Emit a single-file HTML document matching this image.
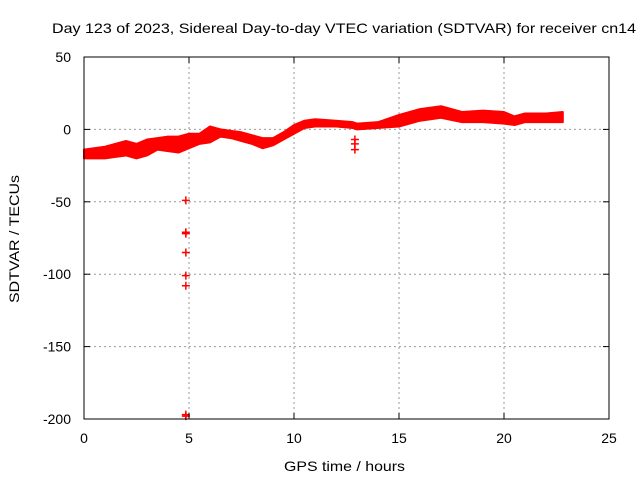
<!DOCTYPE html>
<html><head><meta charset="utf-8"><style>
body{margin:0;background:#fff}
svg{display:block;font-family:"Liberation Sans",sans-serif;font-size:14px}
</style></head><body>
<svg id="c" width="640" height="480">
<rect x="0" y="0" width="640" height="480" fill="#fff"/>
<g id="grid"></g>
<g id="data"></g>
<rect x="84" y="57" width="525" height="362" fill="none" stroke="#000" stroke-width="1"/>
<g id="ticks"></g>
<text x="52" y="33" textLength="584" lengthAdjust="spacingAndGlyphs">Day 123 of 2023, Sidereal Day-to-day VTEC variation (SDTVAR) for receiver cn14</text>
<text x="284" y="471" textLength="121" lengthAdjust="spacingAndGlyphs">GPS time / hours</text>
<text transform="translate(19,303) rotate(-90)" textLength="128" lengthAdjust="spacingAndGlyphs">SDTVAR / TECUs</text>
</svg>
<script>
const xTicks=[0,5,10,15,20,25];
const yTicks=[50,0,-50,-100,-150,-200];
const hours=[0,1,1.5,2,2.5,3,3.5,4,4.5,5,5.5,6,6.5,7,7.5,8,8.5,9,9.5,10,10.5,11,12,12.8,13,14,15,16,17,18,19,20,20.5,21,22,22.8];
const upper=[-14,-12,-10,-8,-10,-7,-6,-5,-5,-3,-3,2,0,-1,-2,-4,-6,-6,-2,3,6,7,6,5,4,5,10,14,16,12,13,12,9,11,11,12];
const lower=[-20,-20,-19,-18,-20,-18,-14,-15,-16,-13,-10,-9,-5,-6,-8,-10,-13,-11,-7,-3,1,2,2,1,0,1,2,6,8,5,5,4,3,5,5,5];
const outX=[4.85,4.85,4.85,4.85,4.85,4.85,4.85,4.85,12.9,12.9,12.9];
const outY=[-49,-71,-72,-85,-101,-108,-197,-198,-7,-10,-14];
const X=v=>84+v*21, Y=v=>57+(50-v)*362/250;
const NS="http://www.w3.org/2000/svg";
function mk(t,a,p){const e=document.createElementNS(NS,t);for(const k in a)e.setAttribute(k,a[k]);document.getElementById(p).appendChild(e);return e;}
xTicks.forEach(t=>{
 if(t>0&&t<25){const g=mk('line',{x1:X(t),x2:X(t),y1:57,y2:419,stroke:'#999','stroke-dasharray':'2,3'},'grid');
 
 }
 mk('line',{x1:X(t),x2:X(t),y1:419,y2:413,stroke:'#000'},'ticks');
 mk('line',{x1:X(t),x2:X(t),y1:57,y2:63,stroke:'#000'},'ticks');
 const l=mk('text',{x:X(t),y:443,'text-anchor':'middle'},'ticks');l.textContent=t;
 
 
});
yTicks.forEach(t=>{
 if(t<50&&t>-200){const g=mk('line',{x1:84,x2:609,y1:Y(t),y2:Y(t),stroke:'#999','stroke-dasharray':'2,3'},'grid');
 
 }
 mk('line',{x1:84,x2:90,y1:Y(t),y2:Y(t),stroke:'#000'},'ticks');
 mk('line',{x1:609,x2:603,y1:Y(t),y2:Y(t),stroke:'#000'},'ticks');
 const l=mk('text',{x:71,y:Y(t)+5,'text-anchor':'end'},'ticks');l.textContent=t;
 
 
});
let d='M'+hours.map((h,i)=>X(h)+','+Y(upper[i])).join('L');
for(let i=hours.length-1;i>=0;i--)d+='L'+X(hours[i])+','+Y(lower[i]);
const band=mk('path',{d:d+'Z',fill:'#f00',stroke:'#f00','stroke-width':2,'stroke-linejoin':'round'},'data');


outX.forEach((h,i)=>{
 const p=mk('path',{d:`M${X(h)-4},${Y(outY[i])}h8M${X(h)},${Y(outY[i])-4}v8`,stroke:'#f00','stroke-width':1.5},'data');
 
 
});
</script>
</body></html>
